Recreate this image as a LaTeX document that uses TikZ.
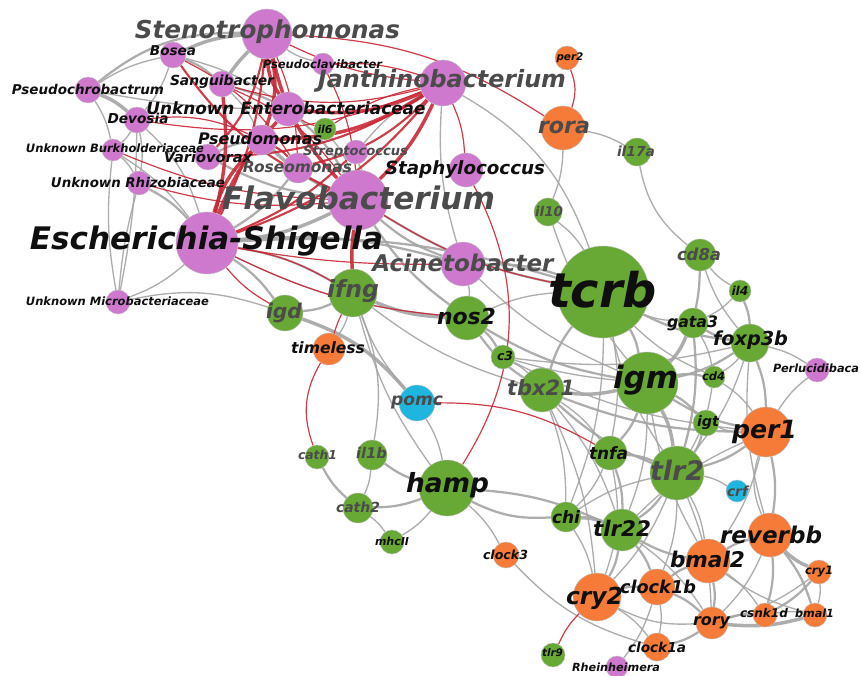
\documentclass[tikz,border=0pt]{standalone}
\usepackage{fontspec}
\setmainfont{DejaVu Sans}
\usepackage{graphicx}
\definecolor{pk}{RGB}{206,120,206}
\definecolor{gn}{RGB}{104,168,52}
\definecolor{og}{RGB}{246,122,56}
\definecolor{cy}{RGB}{30,182,222}
\definecolor{eg}{RGB}{165,165,165}
\definecolor{er}{RGB}{200,40,55}
\definecolor{tg}{RGB}{75,75,75}
\definecolor{tb}{RGB}{15,15,15}
\newdimen\upx \upx=0.75pt
\pgfdeclarelayer{bg}
\pgfsetlayers{bg,main}
\newcommand\nd[5]{\node[dot,fill=#5,minimum size=#4*1.5pt] (#1) at (#2,#3) {};}
\newcommand\lb[6]{\node[lbl,text=#5] (#1-l) at (#2,#3) {\resizebox{#4\upx}{!}{#6}};}
\newcommand\E[4]{\draw[#1] (#2) to[bend left=#4] (#3);}
\begin{document}
\begin{tikzpicture}[x=0.75pt,y=-0.75pt,
  dot/.style={circle,inner sep=0pt,draw=black!25,line width=0.3pt},
  lbl/.style={inner sep=0pt,font=\bfseries\itshape},
  ge/.style={draw=eg,line width=1.0pt,opacity=0.9},
  gm/.style={draw=eg,line width=1.7pt,opacity=0.9},
  gE/.style={draw=eg,line width=2.6pt,opacity=0.9},
  re/.style={draw=er,line width=0.9pt,opacity=0.9},
  rm/.style={draw=er,line width=1.6pt,opacity=0.9},
  rE/.style={draw=er,line width=2.6pt,opacity=0.9}]
\useasboundingbox (0,0) rectangle (860,675);
% nodes
\nd{steno}{267}{34}{25}{pk}
\nd{bosea}{173}{55}{13}{pk}
\nd{pclav}{323}{64}{11}{pk}
\nd{janth}{443}{83}{23}{pk}
\nd{pchrob}{88}{90}{13}{pk}
\nd{sangui}{222}{84}{13}{pk}
\nd{uent}{288}{109}{17}{pk}
\nd{devosia}{137}{120}{13}{pk}
\nd{il6}{325}{129}{11}{gn}
\nd{pseudo}{262}{140}{15}{pk}
\nd{burkh}{113}{150}{11}{pk}
\nd{vario}{208}{157}{13}{pk}
\nd{strep}{356}{152}{12}{pk}
\nd{roseo}{298}{168}{15}{pk}
\nd{staph}{466}{170}{17}{pk}
\nd{rhizob}{139}{183}{12}{pk}
\nd{flavo}{358}{200}{30}{pk}
\nd{esch}{207}{243}{31}{pk}
\nd{acin}{463}{264}{22}{pk}
\nd{micro}{118}{302}{12}{pk}
\nd{ifng}{353}{293}{24}{gn}
\nd{igd}{285}{313}{18}{gn}
\nd{nos2}{467}{318}{22}{gn}
\nd{timeless}{329}{349}{16}{og}
\nd{c3}{503}{357}{12}{gn}
\nd{tbx21}{542}{390}{22}{gn}
\nd{pomc}{417}{403}{18}{cy}
\nd{tcrb}{603}{292}{46}{gn}
\nd{il10}{548}{212}{14}{gn}
\nd{rora}{563}{128}{22}{og}
\nd{per2}{567}{58}{12}{og}
\nd{il17a}{637}{152}{14}{gn}
\nd{cd8a}{700}{255}{16}{gn}
\nd{il4}{740}{291}{11}{gn}
\nd{gata3}{693}{323}{15}{gn}
\nd{foxp3b}{750}{343}{19}{gn}
\nd{perluc}{817}{370}{12}{pk}
\nd{igm}{647}{383}{31}{gn}
\nd{cd4}{714}{377}{11}{gn}
\nd{igt}{706}{423}{13}{gn}
\nd{per1}{766}{432}{25}{og}
\nd{tnfa}{610}{453}{17}{gn}
\nd{tlr2}{677}{473}{27}{gn}
\nd{crf}{737}{491}{11}{cy}
\nd{tlr22}{622}{530}{21}{gn}
\nd{chi}{566}{517}{15}{gn}
\nd{reverbb}{770}{535}{22}{og}
\nd{bmal2}{708}{561}{22}{og}
\nd{cry1}{819}{572}{12}{og}
\nd{clock1b}{657}{587}{18}{og}
\nd{cry2}{597}{597}{24}{og}
\nd{csnk1d}{765}{615}{12}{og}
\nd{bmal1}{815}{615}{12}{og}
\nd{rory}{712}{623}{16}{og}
\nd{clock1a}{657}{647}{14}{og}
\nd{rhein}{617}{667}{11}{pk}
\nd{tlr9}{553}{655}{12}{gn}
\nd{hamp}{447}{488}{28}{gn}
\nd{cath1}{317}{457}{12}{gn}
\nd{il1b}{372}{455}{15}{gn}
\nd{cath2}{358}{508}{15}{gn}
\nd{mhcii}{392}{542}{12}{gn}
\nd{clock3}{506}{555}{13}{og}
% edges
\begin{pgfonlayer}{bg}
\fill[white] (0,0) rectangle (860,675);
\E{gE}{steno}{bosea}{-10}
\E{gm}{steno}{pchrob}{-20}
\E{ge}{bosea}{pchrob}{-10}
\E{gm}{bosea}{sangui}{10}
\E{ge}{bosea}{devosia}{10}
\E{gE}{pchrob}{devosia}{10}
\E{ge}{pchrob}{uent}{-5}
\E{ge}{pchrob}{burkh}{10}
\E{ge}{devosia}{burkh}{10}
\E{ge}{devosia}{rhizob}{10}
\E{ge}{burkh}{rhizob}{10}
\E{gm}{rhizob}{esch}{10}
\E{ge}{burkh}{esch}{10}
\E{ge}{devosia}{esch}{15}
\E{ge}{micro}{esch}{-10}
\E{ge}{micro}{rhizob}{5}
\E{ge}{micro}{devosia}{-5}
\E{ge}{micro}{burkh}{8}
\E{ge}{micro}{igd}{15}
\E{gE}{sangui}{steno}{5}
\E{gm}{sangui}{uent}{5}
\E{ge}{sangui}{pseudo}{10}
\E{gm}{vario}{flavo}{-10}
\E{gE}{esch}{flavo}{-10}
\E{gm}{esch}{roseo}{-10}
\E{gm}{flavo}{roseo}{10}
\E{gE}{pseudo}{flavo}{-10}
\E{gm}{uent}{flavo}{10}
\E{ge}{strep}{flavo}{10}
\E{ge}{il6}{flavo}{10}
\E{ge}{strep}{janth}{10}
\E{ge}{pclav}{steno}{10}
\E{gm}{vario}{pseudo}{10}
\E{ge}{bosea}{uent}{10}
\E{gm}{flavo}{acin}{-10}
\E{gm}{flavo}{nos2}{-10}
\E{gm}{flavo}{tcrb}{-10}
\E{gm}{esch}{ifng}{10}
\E{gm}{esch}{igd}{10}
\E{ge}{esch}{nos2}{-10}
\E{gm}{esch}{acin}{10}
\E{gm}{esch}{tcrb}{10}
\E{ge}{janth}{acin}{-10}
\E{ge}{janth}{tcrb}{20}
\E{ge}{acin}{nos2}{10}
\E{gm}{acin}{tcrb}{10}
\E{ge}{acin}{igm}{-10}
\E{gm}{ifng}{igd}{10}
\E{gE}{ifng}{nos2}{-10}
\E{ge}{ifng}{tbx21}{-10}
\E{ge}{ifng}{pomc}{-10}
\E{ge}{ifng}{il1b}{15}
\E{ge}{ifng}{hamp}{-10}
\E{ge}{ifng}{timeless}{10}
\E{gE}{igd}{pomc}{15}
\E{gm}{nos2}{c3}{10}
\E{gm}{nos2}{tbx21}{-10}
\E{gm}{nos2}{igm}{-10}
\E{ge}{nos2}{tcrb}{10}
\E{ge}{c3}{igm}{-5}
\E{ge}{c3}{per1}{-10}
\E{ge}{c3}{foxp3b}{-10}
\E{ge}{c3}{tbx21}{10}
\E{gm}{tbx21}{tcrb}{10}
\E{gE}{tbx21}{igm}{-10}
\E{gm}{tbx21}{tlr2}{-10}
\E{gm}{tbx21}{per1}{-10}
\E{ge}{tbx21}{tnfa}{10}
\E{ge}{tbx21}{chi}{10}
\E{ge}{tbx21}{cry2}{10}
\E{ge}{tbx21}{tlr22}{10}
\E{ge}{pomc}{hamp}{10}
\E{ge}{rora}{il10}{10}
\E{ge}{rora}{il17a}{10}
\E{ge}{il10}{tcrb}{10}
\E{ge}{il10}{igm}{-10}
\E{ge}{il17a}{cd8a}{-20}
\E{ge}{cd8a}{il4}{-10}
\E{gm}{cd8a}{gata3}{5}
\E{ge}{cd8a}{foxp3b}{-10}
\E{ge}{il4}{gata3}{10}
\E{gm}{il4}{foxp3b}{10}
\E{gm}{gata3}{foxp3b}{-10}
\E{ge}{gata3}{tcrb}{10}
\E{gE}{gata3}{igm}{10}
\E{ge}{gata3}{cd4}{10}
\E{gm}{gata3}{tlr2}{10}
\E{gm}{foxp3b}{tcrb}{10}
\E{gm}{foxp3b}{igm}{10}
\E{ge}{foxp3b}{cd4}{10}
\E{gm}{foxp3b}{per1}{10}
\E{ge}{foxp3b}{reverbb}{-10}
\E{ge}{foxp3b}{perluc}{10}
\E{ge}{foxp3b}{tlr2}{10}
\E{ge}{perluc}{per1}{-10}
\E{gm}{tcrb}{igm}{10}
\E{ge}{tcrb}{tlr2}{-10}
\E{ge}{tcrb}{chi}{10}
\E{ge}{tcrb}{tnfa}{10}
\E{ge}{tcrb}{cd4}{-10}
\E{gm}{igm}{cd4}{10}
\E{gm}{igm}{igt}{10}
\E{gm}{igm}{per1}{-10}
\E{gE}{igm}{tlr2}{10}
\E{gm}{igm}{tnfa}{10}
\E{ge}{igm}{tlr22}{10}
\E{ge}{igm}{bmal2}{-10}
\E{ge}{cd4}{tlr2}{10}
\E{ge}{cd4}{per1}{10}
\E{gm}{igt}{tlr2}{10}
\E{ge}{igt}{per1}{-10}
\E{gm}{per1}{tlr2}{10}
\E{gm}{per1}{reverbb}{10}
\E{ge}{per1}{bmal2}{10}
\E{ge}{per1}{reverbb}{-20}
\E{ge}{per1}{tlr22}{-10}
\E{gm}{tnfa}{tlr2}{10}
\E{gm}{tnfa}{tlr22}{10}
\E{ge}{tnfa}{chi}{10}
\E{ge}{tnfa}{cry2}{15}
\E{ge}{tlr2}{crf}{10}
\E{gm}{tlr2}{tlr22}{10}
\E{ge}{tlr2}{bmal2}{10}
\E{ge}{tlr2}{clock1b}{10}
\E{ge}{tlr2}{cry2}{10}
\E{ge}{tlr2}{rory}{10}
\E{gE}{chi}{tlr22}{10}
\E{gm}{hamp}{chi}{-15}
\E{gm}{hamp}{tlr22}{10}
\E{ge}{chi}{cry2}{10}
\E{ge}{chi}{tlr2}{10}
\E{gm}{hamp}{il1b}{10}
\E{gm}{hamp}{cath2}{10}
\E{ge}{hamp}{mhcii}{10}
\E{ge}{hamp}{clock3}{10}
\E{ge}{il1b}{cath2}{10}
\E{gm}{cath1}{cath2}{-10}
\E{ge}{cath2}{mhcii}{10}
\E{ge}{clock3}{clock1a}{-15}
\E{gm}{tlr22}{cry2}{10}
\E{gm}{tlr22}{clock1b}{10}
\E{gm}{tlr22}{bmal2}{-10}
\E{ge}{tlr22}{rory}{10}
\E{gm}{cry2}{clock1b}{10}
\E{ge}{cry2}{clock1a}{10}
\E{ge}{cry2}{rory}{-15}
\E{gm}{clock1b}{bmal2}{10}
\E{gm}{clock1b}{rory}{10}
\E{ge}{clock1b}{clock1a}{10}
\E{ge}{clock1b}{rhein}{10}
\E{gm}{bmal2}{reverbb}{10}
\E{gm}{bmal2}{rory}{10}
\E{ge}{bmal2}{csnk1d}{10}
\E{ge}{bmal2}{bmal1}{-10}
\E{gE}{reverbb}{cry1}{-10}
\E{gm}{reverbb}{csnk1d}{10}
\E{gm}{reverbb}{bmal1}{10}
\E{ge}{reverbb}{rory}{10}
\E{gm}{rory}{csnk1d}{10}
\E{gE}{rory}{bmal1}{-10}
\E{gm}{rory}{clock1a}{10}
\E{ge}{rory}{cry1}{-10}
\E{ge}{csnk1d}{bmal1}{10}
\E{ge}{cry1}{bmal1}{10}
\E{gm}{cry1}{csnk1d}{10}
% red edges
\E{re}{steno}{janth}{-10}
\E{rE}{steno}{flavo}{-15}
\E{rE}{steno}{pseudo}{15}
\E{rE}{steno}{uent}{-15}
\E{re}{steno}{roseo}{10}
\E{rm}{steno}{vario}{15}
\E{rm}{steno}{esch}{10}
\E{re}{sangui}{janth}{-15}
\E{re}{sangui}{flavo}{15}
\E{rE}{sangui}{esch}{10}
\E{rm}{bosea}{flavo}{-15}
\E{re}{bosea}{roseo}{15}
\E{rE}{esch}{pseudo}{15}
\E{rE}{esch}{uent}{10}
\E{rm}{esch}{strep}{-10}
\E{rE}{uent}{janth}{-15}
\E{rE}{pseudo}{janth}{-15}
\E{rm}{roseo}{janth}{-15}
\E{rm}{vario}{janth}{-15}
\E{rm}{esch}{janth}{-15}
\E{rE}{flavo}{janth}{-10}
\E{re}{devosia}{janth}{-15}
\E{re}{devosia}{pseudo}{15}
\E{re}{burkh}{flavo}{-10}
\E{re}{rhizob}{flavo}{-10}
\E{re}{pclav}{janth}{10}
\E{re}{il6}{uent}{10}
\E{re}{il6}{janth}{10}
\E{rm}{pseudo}{roseo}{10}
\E{re}{pclav}{flavo}{10}
\E{rE}{flavo}{ifng}{-5}
\E{re}{esch}{ifng}{10}
\E{re}{esch}{igd}{-10}
\E{re}{esch}{nos2}{-10}
\E{re}{esch}{acin}{-5}
\E{re}{flavo}{tcrb}{-10}
\E{re}{steno}{rora}{15}
\E{re}{rora}{per2}{-20}
\E{re}{janth}{staph}{10}
\E{re}{staph}{hamp}{30}
\E{re}{pomc}{tnfa}{15}
\E{re}{timeless}{cath1}{-25}
\E{re}{timeless}{ifng}{5}
\E{re}{cry2}{tlr9}{-10}
\end{pgfonlayer}
% labels
\lb{steno}{267.5}{32}{265}{tg}{Stenotrophomonas}
\lb{bosea}{173}{51}{46}{tb}{Bosea}
\lb{pclav}{322.5}{64}{119}{tb}{Pseudoclavibacter}
\lb{janth}{442}{81}{248}{tg}{Janthinobacterium}
\lb{pchrob}{88}{89}{152}{tb}{Pseudochrobactrum}
\lb{sangui}{222}{82}{104}{tb}{Sanguibacter}
\lb{uent}{286}{108}{279}{tb}{Unknown Enterobacteriaceae}
\lb{devosia}{138}{118}{61}{tb}{Devosia}
\lb{il6}{325}{129}{15}{tb}{il6}
\lb{pseudo}{260}{139}{124}{tb}{Pseudomonas}
\lb{burkh}{115}{148}{178}{tb}{Unknown Burkholderiaceae}
\lb{vario}{208}{157}{88}{tb}{Variovorax}
\lb{strep}{355.5}{152}{105}{tg}{Streptococcus}
\lb{roseo}{297.5}{167}{109}{tg}{Roseomonas}
\lb{staph}{465}{170}{160}{tb}{Staphylococcus}
\lb{rhizob}{138}{183}{174}{tb}{Unknown Rhizobiaceae}
\lb{flavo}{358.5}{198}{273}{tg}{Flavobacterium}
\lb{esch}{206.5}{241}{353}{tb}{Escherichia-Shigella}
\lb{acin}{463}{263}{181}{tg}{Acinetobacter}
\lb{micro}{117.5}{301}{183}{tb}{Unknown Microbacteriaceae}
\lb{ifng}{353}{291}{52}{tg}{ifng}
\lb{igd}{284}{313}{36}{tg}{igd}
\lb{nos2}{466.5}{317}{59}{tb}{nos2}
\lb{timeless}{328}{348}{74}{tb}{timeless}
\lb{c3}{505}{356}{16}{tb}{c3}
\lb{tbx21}{541}{388}{68}{tg}{tbx21}
\lb{pomc}{417}{402}{52}{tg}{pomc}
\lb{tcrb}{602.5}{290}{109}{tb}{tcrb}
\lb{il10}{549}{211}{28}{tg}{il10}
\lb{rora}{564}{127}{52}{tg}{rora}
\lb{per2}{570}{58}{27}{tb}{per2}
\lb{il17a}{636}{151}{38}{tg}{il17a}
\lb{cd8a}{699}{254}{44}{tg}{cd8a}
\lb{il4}{740}{291}{17}{tb}{il4}
\lb{gata3}{692.5}{323}{51}{tb}{gata3}
\lb{foxp3b}{750.5}{340}{75}{tb}{foxp3b}
\lb{perluc}{816}{368}{86}{tb}{Perlucidibaca}
\lb{igm}{645.5}{380}{65}{tb}{igm}
\lb{cd4}{713.5}{376}{23}{tb}{cd4}
\lb{igt}{708}{423}{22}{tb}{igt}
\lb{per1}{764.5}{432}{65}{tb}{per1}
\lb{tnfa}{608.5}{453}{39}{tb}{tnfa}
\lb{tlr2}{677}{470}{54}{tg}{tlr2}
\lb{crf}{737.5}{491}{21}{tg}{crf}
\lb{tlr22}{622}{528}{58}{tb}{tlr22}
\lb{chi}{566}{517}{28}{tb}{chi}
\lb{reverbb}{771}{535}{102}{tb}{reverbb}
\lb{bmal2}{707.5}{559}{75}{tb}{bmal2}
\lb{cry1}{819}{572}{28}{tb}{cry1}
\lb{clock1b}{658}{587}{76}{tb}{clock1b}
\lb{cry2}{594.5}{598}{57}{tb}{cry2}
\lb{csnk1d}{764}{613}{48}{tb}{csnk1d}
\lb{bmal1}{814.5}{613}{39}{tb}{bmal1}
\lb{rory}{711.5}{623}{37}{tb}{rory}
\lb{clock1a}{657}{647}{58}{tb}{clock1a}
\lb{rhein}{616}{667}{88}{tb}{Rheinheimera}
\lb{tlr9}{552.5}{653}{21}{tb}{tlr9}
\lb{hamp}{447.5}{485}{83}{tb}{hamp}
\lb{cath1}{317.5}{455}{39}{tg}{cath1}
\lb{il1b}{371.5}{453}{31}{tg}{il1b}
\lb{cath2}{358}{507}{44}{tg}{cath2}
\lb{mhcii}{392}{541}{34}{tb}{mhcII}
\lb{clock3}{505.5}{555}{45}{tb}{clock3}
\end{tikzpicture}
\end{document}
